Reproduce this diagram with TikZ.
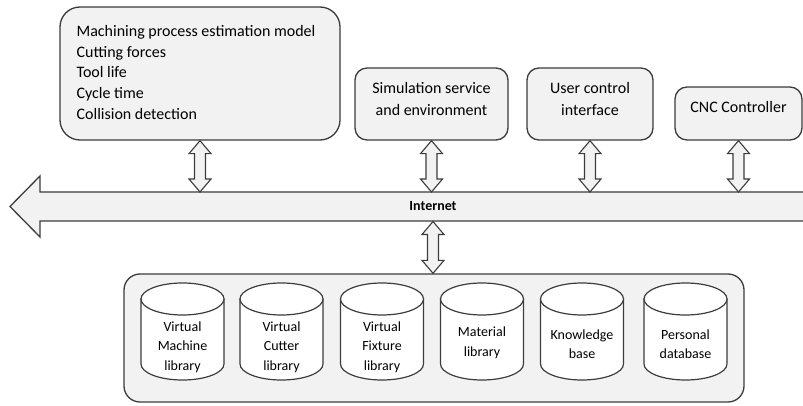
\documentclass[tikz,border=0pt]{standalone}
\usepackage{fontspec}
\setmainfont{Carlito}
\usetikzlibrary{calc}
\definecolor{boxfill}{HTML}{F2F2F2}
\definecolor{edge}{HTML}{3C3C3C}
\tikzset{
  rbox/.style={draw=edge, line width=1.3pt, fill=boxfill, rounded corners=12pt, inner sep=0pt},
  boxtext/.style={align=center, font=\fontsize{16}{22}\selectfont, inner sep=0pt},
  blockarrow/.style={draw=edge, line width=1.1pt, fill=boxfill, line join=miter},
  cyl/.style={draw=edge, line width=1.2pt, fill=white},
  cyltext/.style={align=center, font=\fontsize{14}{19.5}\selectfont, inner sep=0pt},
}
\newcommand\dblarrow[2]{%
  \path[blockarrow] let \p1=(#1), \p2=(#2) in
    (\x1,\y1) -- (\x1+11pt,\y1-13pt) -- (\x1+5.5pt,\y1-13pt) -- (\x1+5.5pt,\y2+13pt)
    -- (\x1+11pt,\y2+13pt) -- (\x1,\y2) -- (\x1-11pt,\y2+13pt) -- (\x1-5.5pt,\y2+13pt)
    -- (\x1-5.5pt,\y1-13pt) -- (\x1-11pt,\y1-13pt) -- cycle;}
\newcommand\dbcyl[4]{%
  \path[cyl] (#1-41.5,299) -- (#1-41.5,364)
    arc[start angle=180, end angle=360, x radius=41.5pt, y radius=16pt]
    -- (#1+41.5,299) -- cycle;
  \path[cyl] (#1,299) ellipse [x radius=41.5pt, y radius=16pt];
  \node[cyltext] (#2) at (#1,#3) {#4};}
\begin{document}
\begin{tikzpicture}[x=1pt, y=-1pt]
\clip (0,0) rectangle (803,406);
% top boxes
\node[rbox, rounded corners=20pt, minimum width=280pt, minimum height=133pt] (mpe) at (200,73.5) {};
\node[boxtext, align=left, font=\fontsize{16}{20.75}\selectfont] (mpetext) at (196,72.5)
  {Machining process estimation model\\Cutting forces\\Tool life\\Cycle time\\Collision detection};
\node[rbox, minimum width=153pt, minimum height=72pt] (sim) at (431.5,104) {};
\node[boxtext] (simtext) at (431.5,99) {Simulation service\\and environment};
\node[rbox, minimum width=126pt, minimum height=72pt] (uci) at (590,104) {};
\node[boxtext] (ucitext) at (590,99) {User control\\interface};
\node[rbox, minimum width=127pt, minimum height=53pt] (cnc) at (738.5,113.5) {};
\node[boxtext] (cnctext) at (738.5,107.5) {CNC Controller};
% internet bus
\path[blockarrow, line width=1.3pt] (810,192) -- (40,192) -- (40,176) -- (10,206.5)
  -- (40,237) -- (40,221) -- (810,221) -- cycle;
\coordinate (bustop) at (0,192);
\coordinate (busbot) at (433,221.5);
\node[font=\bfseries\fontsize{14}{14}\selectfont, inner sep=0pt] (inet) at (433,206) {Internet};
% container
\node[rbox, rounded corners=16pt, minimum width=620pt, minimum height=128pt] (cont) at (434,338) {};
% arrows
\dblarrow{mpe.south}{mpe.south |- bustop}
\dblarrow{sim.south}{sim.south |- bustop}
\dblarrow{uci.south}{uci.south |- bustop}
\dblarrow{cnc.south}{cnc.south |- bustop}
\dblarrow{busbot}{busbot |- cont.north}
% databases
\dbcyl{182.5}{vml}{347}{Virtual\\Machine\\library}
\dbcyl{281.5}{vcl}{347}{Virtual\\Cutter\\library}
\dbcyl{382}{vfl}{347}{Virtual\\Fixture\\library}
\dbcyl{482}{mat}{343}{Material\\library}
\dbcyl{582}{kb}{344}{Knowledge\\base}
\dbcyl{685.5}{pdb}{344}{Personal\\database}
\end{tikzpicture}
\end{document}
